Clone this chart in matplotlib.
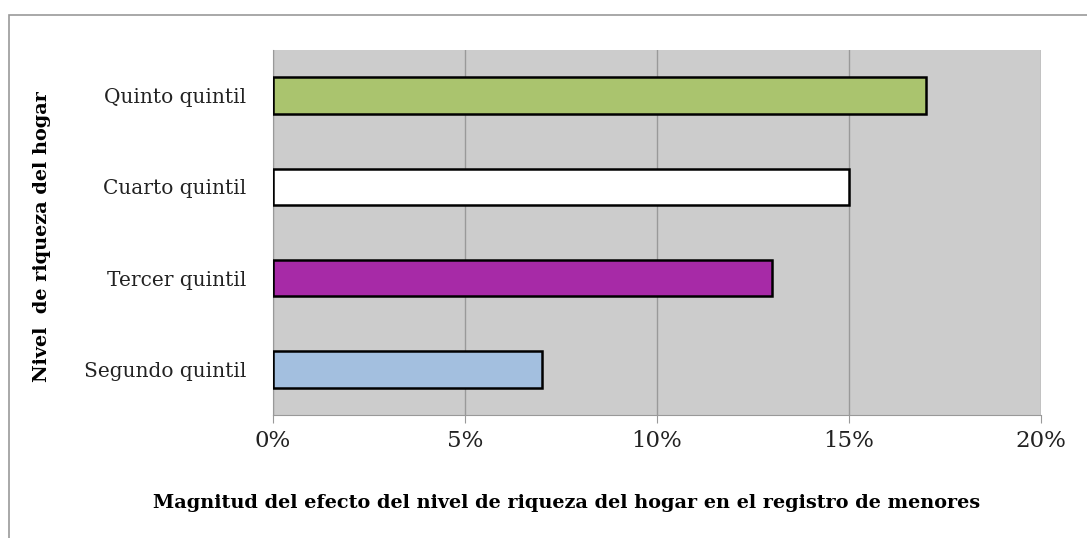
import matplotlib
matplotlib.use("Agg")
import matplotlib.pyplot as plt
from matplotlib.patches import Rectangle
from matplotlib.ticker import PercentFormatter

# Data
categories = ["Segundo quintil", "Tercer quintil", "Cuarto quintil", "Quinto quintil"]
values = [7, 13, 15, 17]
colors = ["#a3bfdf", "#a72aa7", "#ffffff", "#aac46e"]
x_ticks = [0, 5, 10, 15, 20]

plt.rcParams["font.family"] = ["DejaVu Serif"]

fig = plt.figure(figsize=(10.87, 5.38), dpi=100)
W, H = 1087, 538

# outer frame (runs off the right and bottom edge)
fig.patches.append(Rectangle((9 / W, -0.1), 1.2, 1 - 15 / H + 0.1,
                             transform=fig.transFigure, fill=False,
                             edgecolor="#999999", linewidth=1.2))

ax = fig.add_axes([273 / W, 1 - 415 / H, (1041 - 273) / W, (415 - 50) / H])
ax.set_facecolor("#cccccc")

ax.barh(range(len(categories)), values, height=0.4, color=colors,
        edgecolor="black", linewidth=1.8, zorder=3)

ax.set_xlim(0, 20)
ax.set_ylim(-0.5, len(categories) - 0.5)
ax.set_xticks(x_ticks)
ax.xaxis.set_major_formatter(PercentFormatter(decimals=0))
ax.grid(axis="x", color="#999999", linewidth=1, zorder=0)
ax.set_yticks(range(len(categories)))
ax.set_yticklabels(categories, fontsize=14.5, color="#222222")
ax.tick_params(axis="y", length=0, pad=19)
ax.tick_params(axis="x", length=6, color="#999999", labelsize=16.5,
               labelcolor="#222222", pad=5)

for side in ["top", "right"]:
    ax.spines[side].set_visible(False)
ax.spines["left"].set_color("#999999")
ax.spines["bottom"].set_color("#999999")

fig.text(567 / W, 1 - 503 / H,
         "Magnitud del efecto del nivel de riqueza del hogar en el registro de menores",
         fontsize=13.9, fontweight="bold", ha="center", va="center")
fig.text(42 / W, 1 - 237 / H, "Nivel  de riqueza del hogar", rotation=90,
         fontsize=13.9, fontweight="bold", ha="center", va="center")

fig.savefig("out.png", dpi=100)
